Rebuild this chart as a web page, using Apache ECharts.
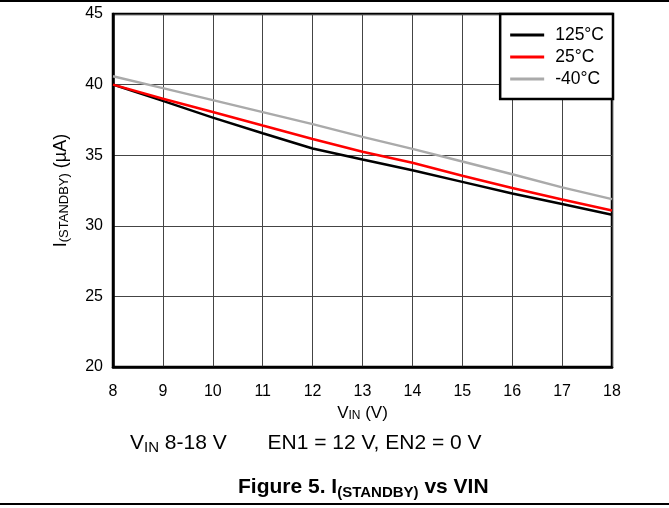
<!DOCTYPE html>
<html>
<head>
<meta charset="utf-8">
<script src="https://cdn.jsdelivr.net/npm/echarts@6/dist/echarts.min.js"></script>
<style>
html,body{margin:0;padding:0;background:#fff;}
#c{width:669px;height:508px;}
</style>
</head>
<body>
<div id="c"></div>
<script>
var vin = [8, 9, 10, 11, 12, 13, 14, 15, 16, 17, 18];
var t125 = [40.0, 38.85, 37.66, 36.55, 35.47, 34.7, 33.94, 33.11, 32.29, 31.54, 30.78];
var t25 = [40.0, 39.0, 38.06, 37.1, 36.15, 35.25, 34.46, 33.55, 32.68, 31.86, 31.08];
var tm40 = [40.59, 39.75, 38.9, 38.05, 37.2, 36.3, 35.45, 34.55, 33.65, 32.72, 31.89];
var seriesNames = ['125°C', '25°C', '-40°C'];
var yTicks = [20, 25, 30, 35, 40, 45];

function pairs(v) { return vin.map(function (x, i) { return [x, v[i]]; }); }

var FONT = 'Liberation Sans, Arial, sans-serif';
var chart = echarts.init(document.getElementById('c'));
chart.setOption({
  backgroundColor: '#fff',
  animation: false,
  textStyle: { fontFamily: FONT },
  grid: { left: 113, top: 14, right: 57, bottom: 141, show: true, borderColor: '#000', borderWidth: 2.5 },
  xAxis: {
    type: 'value', min: 8, max: 18, interval: 1,
    axisLine: { show: true, lineStyle: { color: '#000', width: 2.5 } },
    axisTick: { show: false },
    axisLabel: { color: '#000', fontSize: 16, margin: 17, fontFamily: FONT },
    splitLine: { show: true, lineStyle: { color: '#444', width: 1 } },
    name: '{m|V}{s|IN}{m| (V)}',
    nameLocation: 'middle', nameGap: 37,
    nameTextStyle: { rich: { m: { fontSize: 17, color: '#000', fontFamily: FONT }, s: { fontSize: 12, color: '#000', fontFamily: FONT, verticalAlign: 'bottom', padding: [5, 0, 0, 0] } } }
  },
  yAxis: {
    type: 'value', min: yTicks[0], max: yTicks[yTicks.length - 1], interval: 5,
    axisLine: { show: true, lineStyle: { color: '#000', width: 2.5 } },
    axisTick: { show: false },
    axisLabel: { color: '#000', fontSize: 16, margin: 10, fontFamily: FONT },
    splitLine: { show: true, lineStyle: { color: '#444', width: 1 } },
    name: '{m|I}{s|(STANDBY)}{m| (µA)}',
    nameLocation: 'middle', nameGap: 42, nameRotate: 90,
    nameTextStyle: { rich: { m: { fontSize: 18, color: '#000', fontFamily: FONT }, s: { fontSize: 13, color: '#000', fontFamily: FONT, verticalAlign: 'bottom', padding: [7, 0, 0, 0] } } }
  },
  legend: {
    orient: 'vertical', right: 56, top: 14,
    backgroundColor: '#fff', borderColor: '#000', borderWidth: 2.5,
    padding: [12, 9, 11, 10], itemGap: 4, itemWidth: 34, itemHeight: 3,
    icon: 'rect',
    textStyle: { fontSize: 17.5, lineHeight: 18, color: '#000', fontFamily: FONT, padding: [0, 0, 0, 6] },
    data: seriesNames
  },
  title: [
    {
      text: '{m|V}{s|IN}{m| 8-18 V       EN1 = 12 V, EN2 = 0 V}',
      left: 125, top: 426,
      textStyle: { rich: { m: { fontSize: 21, fontWeight: 'normal', color: '#000', fontFamily: FONT }, s: { fontSize: 15, fontWeight: 'normal', color: '#000', fontFamily: FONT, verticalAlign: 'bottom', padding: [9, 0, 0, 0] } } }
    },
    {
      text: '{m|Figure 5. I}{s|(STANDBY)}{m| vs VIN}',
      left: 233, top: 470,
      textStyle: { rich: { m: { fontSize: 21, fontWeight: 'bold', color: '#000', fontFamily: FONT }, s: { fontSize: 15, fontWeight: 'bold', color: '#000', fontFamily: FONT, verticalAlign: 'bottom', padding: [10, 0, 0, 0] } } }
    }
  ],
  graphic: [
    { type: 'line', shape: { x1: 0, y1: 1, x2: 669, y2: 1 }, style: { stroke: '#000', lineWidth: 2 } },
    { type: 'line', shape: { x1: 0, y1: 504, x2: 669, y2: 504 }, style: { stroke: '#000', lineWidth: 2 } }
  ],
  series: [
    { name: seriesNames[2], type: 'line', data: pairs(tm40), symbol: 'none', lineStyle: { color: '#aaaaaa', width: 2.5 }, itemStyle: { color: '#aaaaaa' }, z: 2 },
    { name: seriesNames[0], type: 'line', data: pairs(t125), symbol: 'none', lineStyle: { color: '#000', width: 2.5 }, itemStyle: { color: '#000' }, z: 3 },
    { name: seriesNames[1], type: 'line', data: pairs(t25), symbol: 'none', lineStyle: { color: '#ff0000', width: 2.5 }, itemStyle: { color: '#ff0000' }, z: 4 }
  ]
});
</script>
</body>
</html>
